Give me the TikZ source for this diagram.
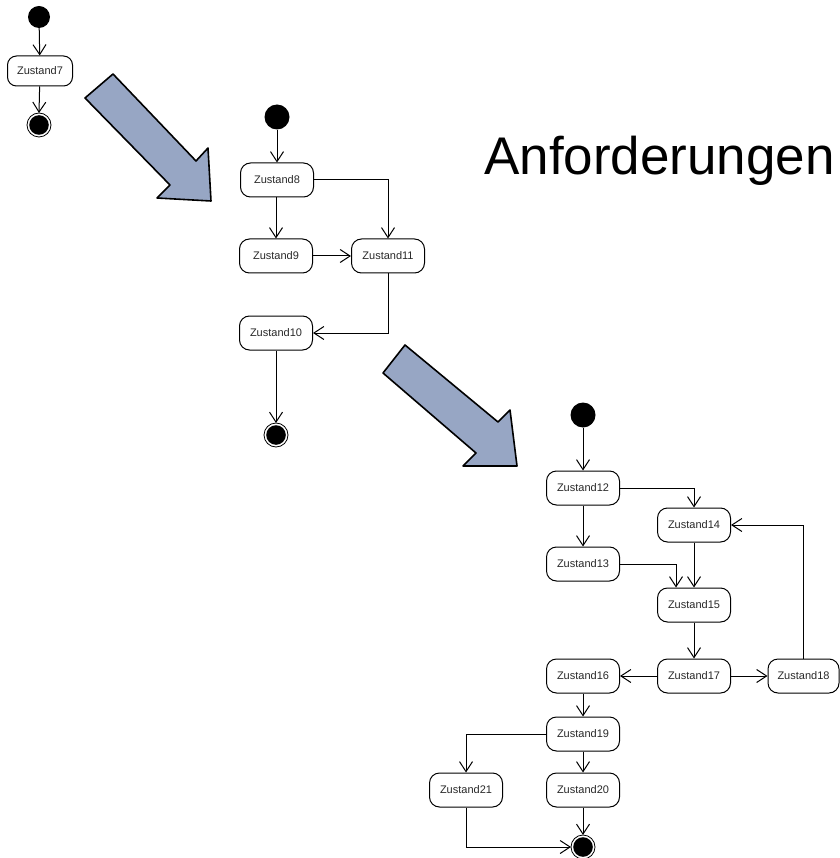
\documentclass[tikz,border=0pt]{standalone}
\usepackage{fontspec}
\setmainfont{Liberation Sans}
\usetikzlibrary{arrows.meta,calc}
\definecolor{flowblue}{RGB}{151,166,196}
\definecolor{labelgray}{RGB}{40,40,40}
\begin{document}
\begin{tikzpicture}[x=1pt,y=-1pt,
  state/.style={draw,line width=1pt,rounded corners=10pt,minimum width=73pt,minimum height=34pt,
    inner sep=0pt,font=\fontsize{11}{12}\selectfont,text=labelgray},
  smallstate/.style={state,minimum width=65pt,minimum height=30pt,rounded corners=9pt},
  startdot/.style={circle,fill=black,inner sep=0pt,minimum size=25pt},
  trans/.style={line width=1pt,-{Straight Barb[length=10pt,width=13pt,line width=1pt]}},
  bigarrow/.style={draw,fill=flowblue,line width=1.6pt,line join=round}]
\useasboundingbox (0,0) rectangle (839,858);

% final states: outer ring, white gap, filled core
\tikzset{endstate/.pic={
  \draw[line width=0.8pt,fill=white] (0,0) circle (12);
  \fill[black] (0,0) circle (9.8);
}}

% title
\node[anchor=base west,inner sep=0pt,font=\fontsize{53}{60}\selectfont] (title) at (484,175) {Anforderungen};

% first machine
\node[startdot,minimum size=22pt] (s7) at (39,17) {};
\node[smallstate] (z7) at (40,71) {Zustand7};
\pic at (39,125) {endstate};
\coordinate (e7) at (39,113);
\draw[trans] (s7) -- (z7);
\draw[trans] (z7) -- (e7);

% refinement arrows
\draw[bigarrow] (85,98) -- (113,74) -- (196,161) -- (208,148) -- (211,201) -- (157,198) -- (170,185) -- cycle;
\draw[bigarrow] (383,373) -- (405,345) -- (498,422) -- (510,410) -- (517,466) -- (463,466) -- (476,453) -- cycle;

% second machine
\node[startdot] (s8) at (277,117) {};
\node[state] (z8) at (277,180) {Zustand8};
\node[state] (z9) at (276,256) {Zustand9};
\node[state] (z11) at (388,256) {Zustand11};
\node[state] (z10) at (276,333) {Zustand10};
\pic at (276,435) {endstate};
\coordinate (e8) at (276,423);
\draw[trans] (s8) -- (z8);
\draw[trans] (z8.south -| z9) -- (z9);
\draw[trans] (z8) -| (z11);
\draw[trans] (z9) -- (z11);
\draw[trans] (z11) |- (z10);
\draw[trans] (z10) -- (e8);

% third machine
\node[startdot] (s12) at (583,415) {};
\node[state] (z12) at (583,488) {Zustand12};
\node[state] (z13) at (583,564) {Zustand13};
\node[state] (z14) at (694,525) {Zustand14};
\node[state] (z15) at (694,605) {Zustand15};
\node[state] (z17) at (694,676) {Zustand17};
\node[state] (z16) at (583,676) {Zustand16};
\node[state,minimum width=71pt] (z18) at (803.5,676) {Zustand18};
\node[state] (z19) at (583,734) {Zustand19};
\node[state] (z20) at (583,790) {Zustand20};
\node[state] (z21) at (466,790) {Zustand21};
\pic at (583,847) {endstate};
\coordinate (e12n) at (583,835);
\coordinate (e12w) at (571,847);
\coordinate (z15in) at ($(z15.north)+(-18,0)$);

\draw[trans] (s12) -- (z12);
\draw[trans] (z12) -| (z14);
\draw[trans] (z12) -- (z13);
\draw[trans] (z13) -| (z15in);
\draw[trans] (z14) -- (z15);
\draw[trans] (z15) -- (z17);
\draw[trans] (z17) -- (z16);
\draw[trans] (z17) -- (z18);
\draw[trans] (z18) |- (z14);
\draw[trans] (z16) -- (z19);
\draw[trans] (z19) -| (z21);
\draw[trans] (z19) -- (z20);
\draw[trans] (z20) -- (e12n);
\draw[trans] (z21) |- (e12w);
\end{tikzpicture}
\end{document}
